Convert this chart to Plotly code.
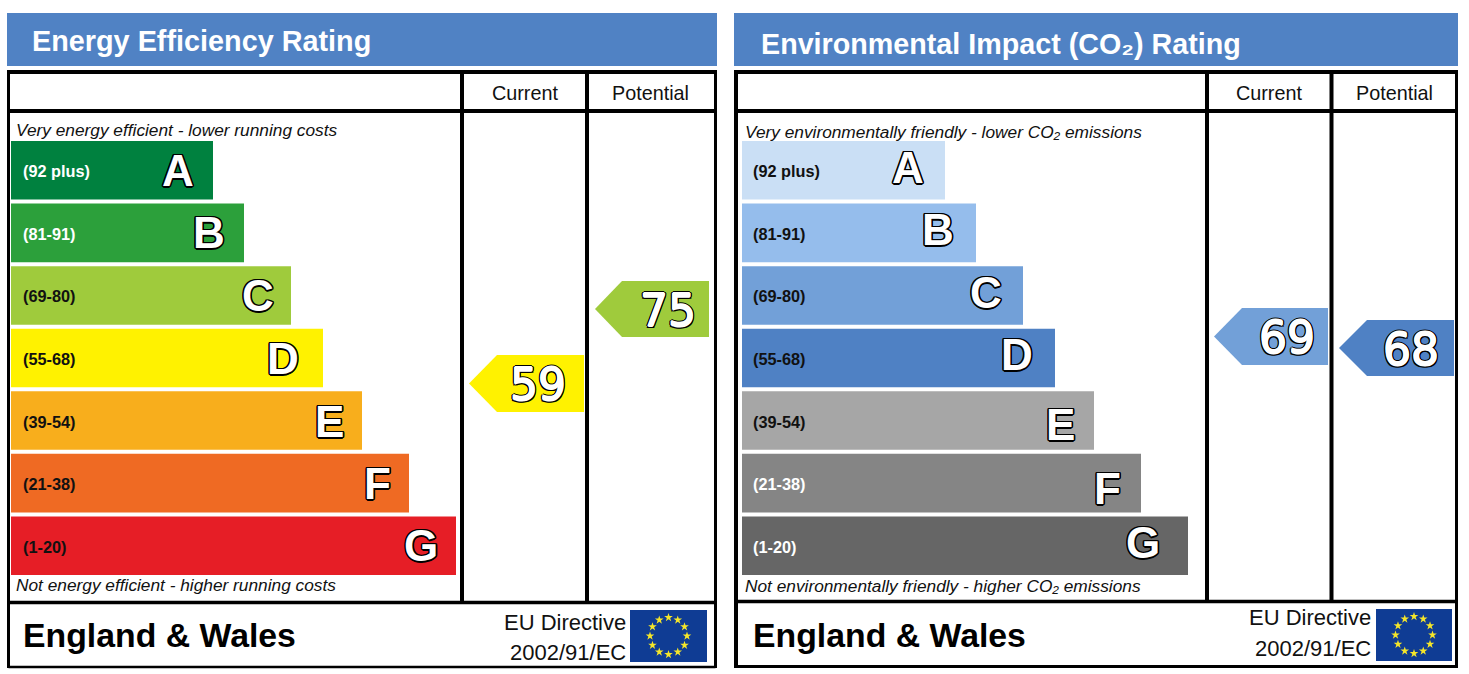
import numpy as np
import plotly.graph_objects as go

# rating bands, same for both panels
bands = ['A', 'B', 'C', 'D', 'E', 'F', 'G']
band_ranges = ['(92 plus)', '(81-91)', '(69-80)', '(55-68)', '(39-54)', '(21-38)', '(1-20)']

# bar lengths
energy_lengths = [202, 233, 280, 312, 351, 398, 445]
co2_lengths = [203, 234, 281, 313, 352, 399, 446]

energy_colors = ['#00813F', '#2CA03B', '#9FCB3C', '#FFF200', '#F8AE1C', '#EF6A23', '#E61E26']
co2_colors = ['#CADFF5', '#95BDEC', '#72A0D8', '#4F81C4', '#A6A6A6', '#858585', '#666666']
range_colors_energy = ['white', 'white', '#111111', '#111111', '#111111', '#111111', '#111111']
range_colors_co2 = ['#111111', '#111111', '#111111', '#111111', '#111111', 'white', 'white']

energy_current, energy_potential = 59, 75
co2_current, co2_potential = 69, 68

BLUE = '#5082C4'
ARIAL = 'Liberation Sans'
OUTLINE = ('1.2px 1.2px 0 #000, -1.2px -1.2px 0 #000, 1.2px -1.2px 0 #000, -1.2px 1.2px 0 #000, '
           '1.5px 0 0 #000, -1.5px 0 0 #000, 0 1.5px 0 #000, 0 -1.5px 0 #000')
# regular digits thickened with a white ring first, then the black ring
DIGIT_OUTLINE = ('0.7px 0 0 #fff, -0.7px 0 0 #fff, 0 0.7px 0 #fff, 0 -0.7px 0 #fff, '
                 '2px 0 0 #000, -2px 0 0 #000, 0 2px 0 #000, 0 -2px 0 #000, '
                 '1.5px 1.5px 0 #000, -1.5px -1.5px 0 #000, 1.5px -1.5px 0 #000, -1.5px 1.5px 0 #000')

W, H = 1469, 674

fig = go.Figure()
shapes = []
annotations = []


def text(x, y, s, size, color='#111111', anchor='left', bold=False, italic=False):
    annotations.append(dict(
        x=x, y=y, xref='x3', yref='y3', text=s, showarrow=False, xanchor=anchor, yanchor='middle',
        font=dict(family=ARIAL, size=size, color=color,
                  weight='bold' if bold else 'normal', style='italic' if italic else 'normal'),
    ))


def line(x0, y0, x1, y1, width):
    shapes.append(dict(type='line', xref='x3', yref='y3', x0=x0, y0=y0, x1=x1, y1=y1,
                       line=dict(color='black', width=width)))


def pointer(tip, shoulder, right, top, bottom, color, value, label_x):
    mid = (top + bottom) / 2
    path = f'M {tip} {mid} L {shoulder} {top} L {right} {top} L {right} {bottom} L {shoulder} {bottom} Z'
    shapes.append(dict(type='path', xref='x3', yref='y3', path=path, fillcolor=color, line_width=0))
    annotations.append(dict(
        x=label_x, y=mid + 1, xref='x3', yref='y3', text=str(value), showarrow=False,
        font=dict(family='DejaVu Sans', size=44, color='white', shadow=DIGIT_OUTLINE),
    ))


def flag(x0, x1, y0, y1):
    shapes.append(dict(type='rect', xref='x3', yref='y3', x0=x0, x1=x1, y0=y0, y1=y1,
                       fillcolor='#0F3C94', line_width=0, layer='below'))
    angles = np.deg2rad(np.arange(0, 360, 30))
    fig.add_trace(go.Scatter(
        x=(x0 + x1) / 2 + 18.5 * np.cos(angles), y=(y0 + y1) / 2 + 18.5 * np.sin(angles),
        xaxis='x3', yaxis='y3', mode='markers', hoverinfo='skip',
        marker=dict(symbol='star', size=6.5, color='#F5E62A', line_width=0),
    ))


def panel(xaxis, yaxis, lengths, colors, range_colors, label_shift, letter_dx, letter_dy):
    fig.add_trace(go.Bar(
        y=bands, x=lengths, orientation='h', xaxis=xaxis, yaxis=yaxis,
        marker=dict(color=colors, line_width=0), hoverinfo='skip',
    ))
    for i, band in enumerate(bands):
        annotations.append(dict(
            x=0, y=band, xref=xaxis, yref=yaxis, text=band_ranges[i], showarrow=False, xanchor='left',
            xshift=label_shift, yshift=-1,
            font=dict(family=ARIAL, size=16.3, color=range_colors[i], weight='bold'),
        ))
        annotations.append(dict(
            x=lengths[i], y=band, xref=xaxis, yref=yaxis, text=band, showarrow=False,
            xshift=letter_dx[i], yshift=letter_dy[i],
            font=dict(family=ARIAL, size=44, color='white', weight='bold', shadow=OUTLINE),
        ))


panel('x', 'y', energy_lengths, energy_colors, range_colors_energy, 10,
      [-35, -35, -33, -40, -33, -32, -35], [0, 0, 0, 0, -1, 0, 0])
panel('x2', 'y2', co2_lengths, co2_colors, range_colors_co2, 9,
      [-37, -38, -37, -38, -34, -34, -45], [3, 3, 3, 4, -4, -5, 3])

# left panel frame
shapes.append(dict(type='rect', xref='x3', yref='y3', x0=7, x1=717, y0=13, y1=66, fillcolor=BLUE, line_width=0))
for x0, y0, x1, y1, w in [(8.5, 72, 715.5, 72, 4), (8.5, 111, 715.5, 111, 4), (8.5, 602.5, 715.5, 602.5, 3.5),
                          (8.5, 667, 715.5, 667, 2.5), (8.5, 70, 8.5, 668, 3), (715.5, 70, 715.5, 668, 3),
                          (462, 72, 462, 602, 4), (587, 72, 587, 602, 4)]:
    line(x0, y0, x1, y1, w)

# right panel frame
shapes.append(dict(type='rect', xref='x3', yref='y3', x0=734, x1=1458, y0=13, y1=66, fillcolor=BLUE, line_width=0))
for x0, y0, x1, y1, w in [(736, 72, 1456.5, 72, 4), (736, 111, 1456.5, 111, 4), (736, 601.5, 1456.5, 601.5, 3.5),
                          (736, 666.5, 1456.5, 666.5, 3), (736, 70, 736, 668, 4), (1456.5, 70, 1456.5, 668, 3),
                          (1207, 72, 1207, 602, 4), (1331.5, 72, 1331.5, 602, 4)]:
    line(x0, y0, x1, y1, w)

pointer(469, 497, 584, 355, 412, energy_colors[3], energy_current, 537.5)
pointer(595, 622, 709, 281, 337, energy_colors[2], energy_potential, 667.5)
pointer(1214, 1242, 1328, 308, 365, co2_colors[2], co2_current, 1286.5)
pointer(1339, 1367, 1454, 320, 376, co2_colors[3], co2_potential, 1410.5)

flag(630, 707, 610, 662)
flag(1376, 1452, 609, 661)

text(30, 41, 'Energy Efficiency Rating', 28.8, 'white', bold=True)
text(759, 44, 'Environmental Impact (CO₂) Rating', 28.7, 'white', bold=True)
for cx in (525, 1269):
    text(cx, 93, 'Current', 19.8, anchor='center')
for cx in (650, 1394):
    text(cx, 93, 'Potential', 19.8, anchor='center')
text(14, 130, 'Very energy efficient - lower running costs', 17.3, italic=True)
text(14, 585, 'Not energy efficient - higher running costs', 17.3, italic=True)
text(743, 132, 'Very environmentally friendly - lower CO₂ emissions', 17.3, italic=True)
text(743, 586, 'Not environmentally friendly - higher CO₂ emissions', 17.3, italic=True)
text(21, 635, 'England &amp; Wales', 33.8, '#000000', bold=True)
text(751, 635, 'England &amp; Wales', 33.8, '#000000', bold=True)
text(628, 622, 'EU Directive', 22, anchor='right')
text(628, 652, '2002/91/EC', 22, anchor='right')
text(1373, 617, 'EU Directive', 22, anchor='right')
text(1373, 648, '2002/91/EC', 22, anchor='right')

hidden = dict(visible=False, fixedrange=True)
bars_top, bars_bottom = 139, 577
y_domain = [1 - bars_bottom / H, 1 - bars_top / H]

fig.update_layout(
    width=W, height=H, margin=dict(l=0, r=0, t=0, b=0), autosize=False,
    paper_bgcolor='white', plot_bgcolor='rgba(0,0,0,0)', showlegend=False, bargap=0.064,
    xaxis=dict(hidden, domain=[11 / W, 456 / W], range=[0, 445]),
    yaxis=dict(hidden, domain=y_domain, categoryorder='array', categoryarray=bands[::-1]),
    xaxis2=dict(hidden, domain=[742 / W, 1188 / W], range=[0, 446]),
    yaxis2=dict(hidden, domain=y_domain, categoryorder='array', categoryarray=bands[::-1]),
    xaxis3=dict(hidden, domain=[0, 1], range=[0, W]),
    yaxis3=dict(hidden, domain=[0, 1], range=[H, 0]),
    shapes=shapes, annotations=annotations,
)

fig.write_html('out.html', post_script="document.body.style.margin='0';", config={'displayModeBar': False})
